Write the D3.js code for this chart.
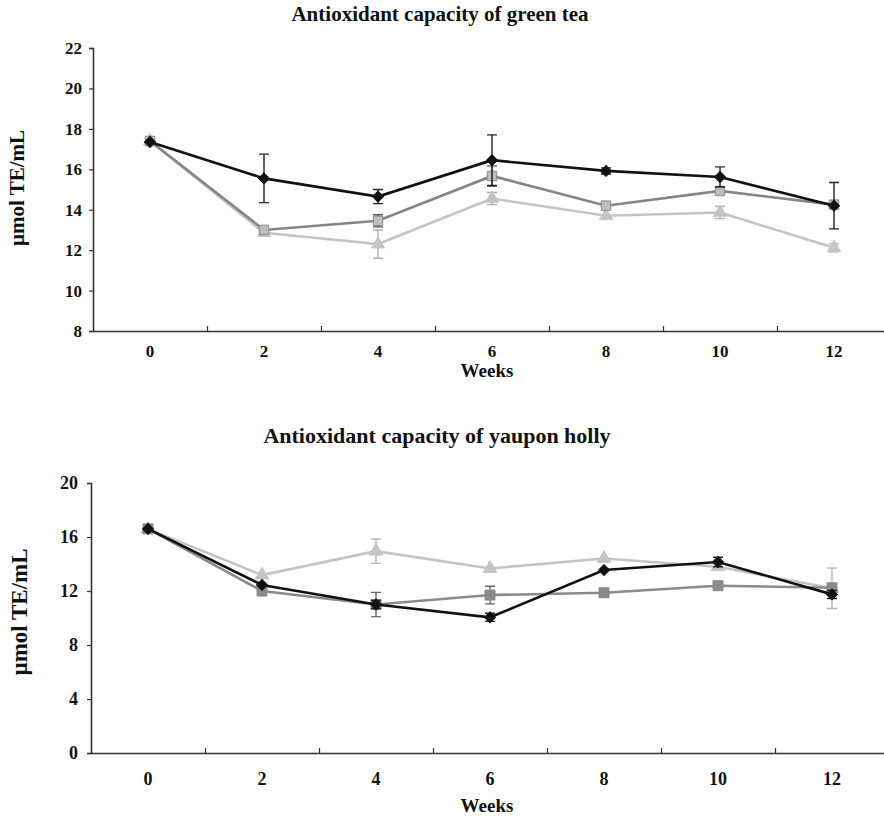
<!DOCTYPE html>
<html>
<head>
<meta charset="utf-8">
<script src="https://cdn.jsdelivr.net/npm/d3@7"></script>
<style>
  body { margin: 0; background: #fff; }
  text { font-family: "Liberation Serif", "Times New Roman", serif; font-weight: bold; fill: #111; }
</style>
</head>
<body>
<svg id="chart" width="884" height="817"></svg>
<script>
// categories
const weeks = ["0", "2", "4", "6", "8", "10", "12"];

// green tea panel
const teaBlack = [17.35, 15.55, 14.65, 16.45, 15.92, 15.62, 14.2];
const teaBlackErr = [0, 1.2, 0.35, 1.25, 0.15, 0.5, 1.15];
const teaSquare = [17.4, 13.0, 13.45, 15.67, 14.2, 14.93, 14.25];
const teaSquareErr = [0, 0, 0.3, 0.5, 0, 0, 0];
const teaTriangle = [17.4, 12.86, 12.3, 14.55, 13.7, 13.86, 12.12];
const teaTriangleErr = [0, 0, 0.7, 0.3, 0, 0.3, 0.2];
const teaTicks = [8, 10, 12, 14, 16, 18, 20, 22];

// yaupon holly panel
const hollyBlack = [16.6, 12.45, 11.0, 10.05, 13.55, 14.15, 11.75];
const hollyBlackErr = [0, 0, 0.3, 0.3, 0, 0.35, 0.3];
const hollySquare = [16.6, 12.0, 11.0, 11.7, 11.87, 12.39, 12.24];
const hollySquareErr = [0, 0, 0.9, 0.65, 0, 0, 0];
const hollyTriangle = [16.6, 13.18, 14.95, 13.67, 14.41, 13.8, 12.2];
const hollyTriangleErr = [0, 0, 0.9, 0, 0, 0, 1.5];
const hollyTicks = [0, 4, 8, 12, 16, 20];

const svg = d3.select("#chart");

function drawPanel(opts) {
  let g = svg.append("g");

  let xLin = d3.scaleLinear().domain([0, weeks.length]).range([opts.left, opts.left + 798]);
  let x = d3.scaleBand().domain(weeks).range([opts.left, opts.left + 798]).padding(0);
  let y = d3.scaleLinear().domain(opts.yDomain).range([opts.bottom, opts.top]);

  // title
  g.append("text")
    .attr("x", opts.titleX).attr("y", opts.titleY)
    .attr("text-anchor", "middle")
    .style("font-size", opts.titleSize + "px")
    .text(opts.title);

  // y axis
  let yAxis = g.append("g")
    .attr("transform", `translate(${opts.left},0)`)
    .call(d3.axisLeft(y).tickValues(opts.ticks).tickSize(4).tickPadding(opts.yTickPad).tickFormat(d3.format("d")));
  yAxis.select(".domain").attr("stroke", "#333").attr("stroke-width", 1.6);
  yAxis.selectAll(".tick line").attr("stroke", "#333").attr("stroke-width", 1.2);
  yAxis.selectAll("text").style("font-size", opts.tickSize + "px")
    .style("font-family", "Liberation Serif").style("font-weight", "bold").attr("fill", "#111");

  // x axis: ticks at category boundaries, pointing inside
  let xAxis = g.append("g")
    .attr("transform", `translate(0,${opts.bottom})`)
    .call(d3.axisBottom(xLin).tickValues(d3.range(1, weeks.length)).tickSize(-5).tickSizeOuter(0).tickFormat(""));
  xAxis.select(".domain").attr("stroke", "#333").attr("stroke-width", 1.6);
  xAxis.selectAll(".tick line").attr("stroke", "#333").attr("stroke-width", 1.2);

  let xLab = g.append("g")
    .attr("transform", `translate(0,${opts.bottom})`)
    .call(d3.axisBottom(x).tickSize(0).tickPadding(opts.xLabelPad));
  xLab.select(".domain").remove();
  xLab.selectAll("text").style("font-size", opts.tickSize + "px")
    .style("font-family", "Liberation Serif").style("font-weight", "bold").attr("fill", "#111");

  g.append("text")
    .attr("x", opts.weeksX).attr("y", opts.weeksY)
    .attr("text-anchor", "middle")
    .style("font-size", opts.labelSize + "px")
    .text("Weeks");

  g.append("text")
    .attr("transform", `translate(${opts.yLabelX},${opts.yLabelY}) rotate(-90)`)
    .attr("text-anchor", "middle")
    .style("font-size", opts.yLabelSize + "px")
    .text("µmol TE/mL");

  let line = d3.line()
    .x((d, i) => x(weeks[i]) + x.bandwidth() / 2)
    .y(d => y(d));

  opts.series.forEach(s => {
    let sg = g.append("g");
    // error bars
    s.values.forEach((v, i) => {
      let e = s.errs[i];
      if (!e) return;
      let cx = x(weeks[i]) + x.bandwidth() / 2;
      sg.append("path")
        .attr("d", `M${cx},${y(v + e)}V${y(v - e)}M${cx - 5},${y(v + e)}h10M${cx - 5},${y(v - e)}h10`)
        .attr("stroke", s.errColor).attr("stroke-width", 1.4).attr("fill", "none");
    });
    sg.append("path")
      .datum(s.values)
      .attr("d", line)
      .attr("fill", "none")
      .attr("stroke", s.color)
      .attr("stroke-width", 2.6);
    sg.selectAll(".m")
      .data(s.values)
      .join("path")
      .attr("transform", (d, i) => `translate(${x(weeks[i]) + x.bandwidth() / 2},${y(d)}) rotate(${s.rotate || 0})`)
      .attr("d", d3.symbol().type(s.shape).size(s.size))
      .attr("fill", s.fill)
      .attr("stroke", s.stroke)
      .attr("stroke-width", 1);
  });
}

drawPanel({
  title: "Antioxidant capacity of green tea",
  titleX: 440, titleY: 21, titleSize: 21,
  left: 93, top: 48, bottom: 331,
  yDomain: [8, 22], ticks: teaTicks,
  tickSize: 17, labelSize: 19, yLabelSize: 21, xLabelPad: 14, yTickPad: 7,
  weeksX: 487, weeksY: 377,
  yLabelX: 24, yLabelY: 188,
  series: [
    {values: teaTriangle, errs: teaTriangleErr, color: "#c4c4c4", errColor: "#b0b0b0", fill: "#c4c4c4", stroke: "#c4c4c4", shape: d3.symbolTriangle, size: 75},
    {values: teaSquare, errs: teaSquareErr, color: "#858585", errColor: "#555", fill: "#bdbdbd", stroke: "#8a8a8a", shape: d3.symbolSquare, size: 90},
    {values: teaBlack, errs: teaBlackErr, color: "#111", errColor: "#222", fill: "#111", stroke: "#111", shape: d3.symbolSquare, size: 60, rotate: 45}
  ]
});

drawPanel({
  title: "Antioxidant capacity of yaupon holly",
  titleX: 437, titleY: 443, titleSize: 22,
  left: 91, top: 483, bottom: 753,
  yDomain: [0, 20], ticks: hollyTicks,
  tickSize: 18, labelSize: 19, yLabelSize: 23, xLabelPad: 19, yTickPad: 9,
  weeksX: 487, weeksY: 812,
  yLabelX: 27, yLabelY: 612,
  series: [
    {values: hollyTriangle, errs: hollyTriangleErr, color: "#c4c4c4", errColor: "#b5b5b5", fill: "#c4c4c4", stroke: "#c4c4c4", shape: d3.symbolTriangle, size: 80},
    {values: hollySquare, errs: hollySquareErr, color: "#8a8a8a", errColor: "#666", fill: "#8a8a8a", stroke: "#8a8a8a", shape: d3.symbolSquare, size: 100},
    {values: hollyBlack, errs: hollyBlackErr, color: "#111", errColor: "#222", fill: "#111", stroke: "#111", shape: d3.symbolSquare, size: 60, rotate: 45}
  ]
});
</script>
</body>
</html>
